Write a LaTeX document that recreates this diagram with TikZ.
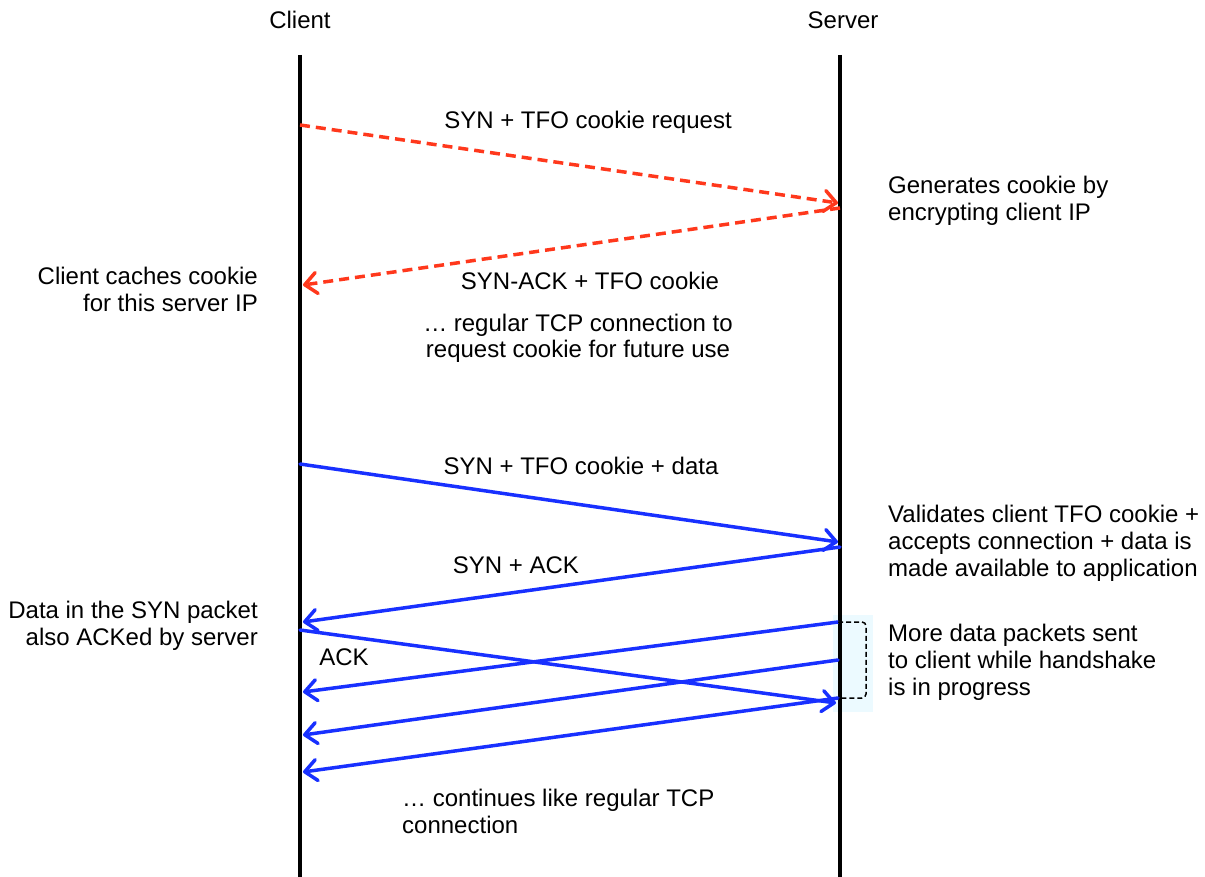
\documentclass[tikz,border=0pt]{standalone}
\usepackage{fontspec}
\setmainfont{Liberation Sans}
\usetikzlibrary{arrows.meta}
\definecolor{tfored}{RGB}{255,56,28}
\definecolor{tfoblue}{RGB}{24,48,255}
\definecolor{hilite}{RGB}{236,250,255}
\begin{document}
\begin{tikzpicture}[x=1pt,y=-1pt,
  lbl/.style={inner sep=0pt, font=\fontsize{24}{27}\selectfont},
  life/.style={line width=4pt},
  msg/.style={line width=3.5pt, line cap=round, -{Straight Barb[length=12pt,width=21pt,line cap=round,line join=round]}},
  redmsg/.style={msg, tfored, dash pattern=on 10pt off 6pt, line cap=butt},
  bluemsg/.style={msg, tfoblue},
  bracket/.style={line width=1.5pt, dash pattern=on 5pt off 3pt, rounded corners=4pt}]
\useasboundingbox (0,0) rectangle (1205,877);

% highlight behind the server during the handshake
\fill[hilite] (833,615) rectangle (873,712);

% headers
\node[lbl, anchor=base] (client) at (300,29) {Client};
\node[lbl, anchor=base] (server) at (843,29) {Server};

% lifelines
\coordinate (ctop) at (300,55);
\coordinate (cbot) at (300,877);
\coordinate (stop) at (840,55);
\coordinate (sbot) at (840,877);
\draw[life] (ctop) -- (cbot);
\draw[life] (stop) -- (sbot);

% endpoints
\coordinate (c1) at (300,125);  \coordinate (s1) at (838,203);
\coordinate (s2) at (840,208);  \coordinate (c2) at (303,285);
\coordinate (c3) at (300,464);  \coordinate (s3) at (838,542);
\coordinate (s4) at (840,547);  \coordinate (c4) at (303,622);
\coordinate (c5) at (300,630);  \coordinate (s5) at (836,703);
\coordinate (s6) at (838,622);  \coordinate (c6) at (303,692);
\coordinate (s7) at (838,660);  \coordinate (c7) at (303,735);
\coordinate (s8) at (838,698);  \coordinate (c8) at (303,772);

% cookie request
\draw[redmsg] (c1) -- (s1);
\draw[redmsg] (s2) -- (c2);

% fast open
\draw[bluemsg] (c3) -- (s3);
\draw[bluemsg] (s4) -- (c4);
\draw[bluemsg] (c5) -- (s5);
\draw[bluemsg] (s6) -- (c6);
\draw[bluemsg] (s7) -- (c7);
\draw[bluemsg] (s8) -- (c8);

% bracket
\coordinate (b1) at (866,622);
\coordinate (b2) at (866,698);
\draw[bracket] (s6) -- (b1) -- (b2) -- (s8);

% labels (multi-line nodes are placed by the baseline of their last line)
\node[lbl, anchor=base] (l1) at (588,129) {SYN + TFO cookie request};
\node[lbl, anchor=base west, align=left] (l2) at (888,221) {Generates cookie by\\encrypting client IP};
\node[lbl, anchor=base east, align=right] (l3) at (258,312) {Client caches cookie\\for this server IP};
\node[lbl, anchor=base] (l4) at (590,290) {SYN-ACK + TFO cookie};
\node[lbl, anchor=base, align=center] (l5) at (578,358) {\dots\ regular TCP connection to\\request cookie for future use};
\node[lbl, anchor=base] (l6) at (581,474) {SYN + TFO cookie + data};
\node[lbl, anchor=base west, align=left] (l7) at (888,576) {Validates client TFO cookie +\\accepts connection + data is\\made available to application};
\node[lbl, anchor=base] (l8) at (516,573) {SYN + ACK};
\node[lbl, anchor=base east, align=right] (l9) at (258,645) {Data in the SYN packet\\also ACKed by server};
\node[lbl, anchor=base] (l10) at (344,665) {ACK};
\node[lbl, anchor=base west, align=left] (l11) at (888,695) {More data packets sent\\to client while handshake\\is in progress};
\node[lbl, anchor=base west, align=left] (l12) at (402,833) {\dots\ continues like regular TCP\\connection};
\end{tikzpicture}
\end{document}
